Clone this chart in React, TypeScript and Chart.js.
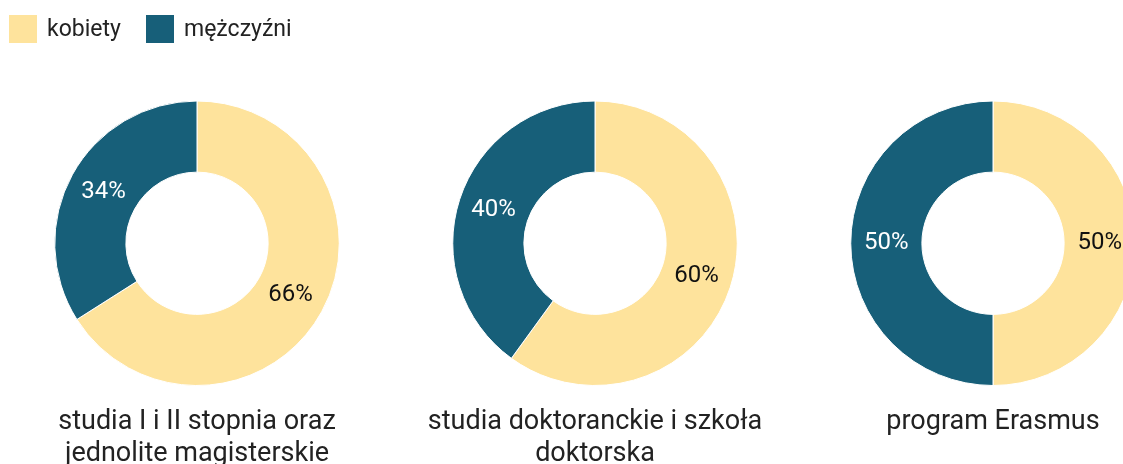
import React, { useEffect, useRef } from "react";
import { Chart, registerables } from "chart.js";

Chart.register(...registerables);

const seriesLabels = ["kobiety", "mężczyźni"];
const seriesColors = ["#FEE39C", "#175F79"];
const labelColors = ["#111111", "#FFFFFF"];
const groups = [
  ["studia I i II stopnia oraz", "jednolite magisterskie"],
  ["studia doktoranckie i szkoła", "doktorska"],
  ["program Erasmus"],
];
const kobietyValues = [66, 60, 50];
const mezczyzniValues = [34, 40, 50];

const FONT = "Roboto, 'Noto Sans', sans-serif";

const pctPlugin = {
  id: "pctLabels",
  afterDatasetsDraw(chart: any) {
    const ctx = chart.ctx;
    const meta = chart.getDatasetMeta(0);
    const ds = chart.data.datasets[0];
    ctx.save();
    ctx.font = `24px ${FONT}`;
    ctx.textAlign = "center";
    ctx.textBaseline = "middle";
    meta.data.forEach((arc: any, i: number) => {
      const p = arc.getProps(["x", "y", "startAngle", "endAngle", "innerRadius", "outerRadius"], true);
      const mid = (p.startAngle + p.endAngle) / 2;
      const r = (p.innerRadius + p.outerRadius) / 2;
      ctx.fillStyle = labelColors[i];
      ctx.fillText(ds.data[i] + "%", p.x + Math.cos(mid) * r, p.y + Math.sin(mid) * r);
    });
    ctx.restore();
  },
};

function Donut({ index }: { index: number }) {
  const ref = useRef<HTMLCanvasElement>(null);
  useEffect(() => {
    const lines = groups[index];
    const size = 27;
    const lh = 32.4;
    const padTop = 19.8;
    const H = 500;
    const chart = new Chart(ref.current!, {
      type: "doughnut",
      data: {
        labels: seriesLabels,
        datasets: [
          {
            data: [kobietyValues[index], mezczyzniValues[index]],
            backgroundColor: seriesColors,
            borderColor: "#FFFFFF",
            borderWidth: 1,
          },
        ],
      },
      options: {
        animation: false,
        responsive: false,
        cutout: "50%",
        events: [],
        layout: { padding: { top: 100.5, bottom: H - 386 - (2 * lh + padTop), left: 0, right: 0 } },
        plugins: {
          legend: { display: false },
          tooltip: { enabled: false },
          title: {
            display: true,
            position: "bottom",
            text: lines.length === 1 ? [lines[0], ""] : lines,
            color: "#222222",
            font: { family: FONT, size: size, weight: "normal", lineHeight: lh / size },
            padding: { top: padTop, bottom: 0 },
          },
        },
      } as any,
      plugins: [pctPlugin],
    });
    return () => chart.destroy();
  }, [index]);
  return (
    <canvas
      ref={ref}
      width={398}
      height={500}
      style={{ position: "absolute", left: -2 + index * 398, top: 0, width: 398, height: 500 }}
    />
  );
}

export default function App() {
  return (
    <div
      style={{
        position: "fixed",
        left: 0,
        top: 0,
        width: 1123,
        height: 464,
        overflow: "hidden",
        background: "#fff",
        fontFamily: FONT,
      }}
    >
      {[0, 1, 2].map((i) => (
        <Donut key={i} index={i} />
      ))}
      {seriesLabels.map((s, i) => (
        <div
          key={s}
          style={{ position: "absolute", left: i === 0 ? 9 : 146, top: 15, display: "flex", alignItems: "center" }}
        >
          <div style={{ width: 28, height: 28, background: seriesColors[i] }} />
          <span style={{ marginLeft: 10, fontSize: 23, color: "#222", lineHeight: "28px" }}>{s}</span>
        </div>
      ))}
    </div>
  );
}
